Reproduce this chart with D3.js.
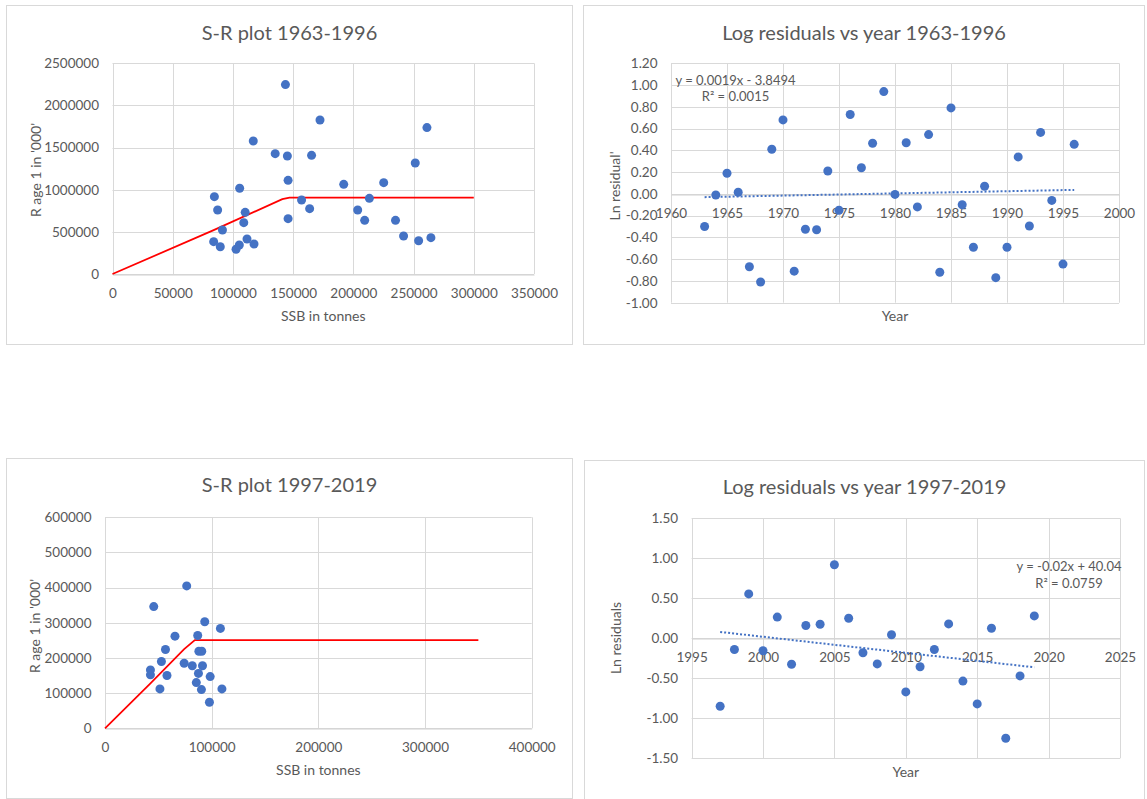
<!DOCTYPE html>
<html><head><meta charset="utf-8">
<script src="https://cdn.jsdelivr.net/npm/d3@7"></script>
<style>
body{margin:0;background:#fff;}
svg{display:block;font-family:Lato,"Open Sans",sans-serif;}
</style></head><body>
<svg id="c" width="1147" height="799"></svg>
<script>
// ---------- DATA ----------
// Panel 1: S-R 1963-1996
const ssb1 = [84600, 87300, 91300, 84000, 89500, 105600, 110200, 109000, 111700, 105300, 102600, 116900, 117500, 135100, 143600, 145200, 145800, 145800, 157000, 165300, 163700, 172300, 192000, 203600, 209400, 213300, 225200, 235000, 241700, 251400, 254200, 261100, 264400];
const rec1 = [918000, 759000, 522000, 384000, 324000, 1017000, 732000, 609000, 415000, 344000, 293000, 1578000, 356000, 1428000, 2247000, 1400000, 1111000, 657000, 878000, 1408000, 775000, 1827000, 1064000, 759000, 637000, 898000, 1084000, 637000, 451000, 1317000, 395000, 1737000, 431000];
const srLineX1 = [0, 84000, 141000, 147000, 300000];
const srLineY1 = [0, 520000, 888000, 905000, 905000];
const xTicks1 = [0, 50000, 100000, 150000, 200000, 250000, 300000, 350000];
const yTicks1 = [0, 500000, 1000000, 1500000, 2000000, 2500000];

// Panel 2: log residuals 1963-1996
const years1 = [1963,1964,1965,1966,1967,1968,1969,1970,1971,1972,1973,1974,1975,1976,1977,1978,1979,1980,1981,1982,1983,1984,1985,1986,1987,1988,1989,1990,1991,1992,1993,1994,1995,1996];
const resid1 = [-0.30, -0.01, 0.19, 0.015, -0.67, -0.81, 0.41, 0.68, -0.71, -0.325, -0.33, 0.21, -0.15, 0.73, 0.24, 0.465, 0.94, -0.005, 0.47, -0.12, 0.545, -0.72, 0.79, -0.10, -0.49, 0.07, -0.77, -0.49, 0.34, -0.295, 0.565, -0.06, -0.645, 0.455];
const xTicks2 = [1960, 1965, 1970, 1975, 1980, 1985, 1990, 1995, 2000];
const yTicks2 = [-1.0, -0.8, -0.6, -0.4, -0.2, 0, 0.2, 0.4, 0.6, 0.8, 1.0, 1.2];
const trendText2 = ["y = 0.0019x - 3.8494", "R² = 0.0015"];

// Panel 3: S-R 1997-2019
const ssb2 = [45700, 76600, 42600, 42600, 51500, 52900, 56700, 58100, 65600, 74200, 81800, 85600, 86900, 87600, 88000, 90700, 90400, 91400, 93500, 97900, 98600, 108200, 109600];
const rec2 = [346000, 405000, 166000, 152000, 112000, 190000, 224000, 150000, 262000, 185000, 178000, 130000, 264000, 156000, 219000, 219000, 110000, 178000, 303000, 74000, 147000, 284000, 112000];
const srLineX2 = [0, 42600, 74200, 84200, 350000];
const srLineY2 = [0, 128000, 225000, 251000, 251000];
const xTicks3 = [0, 100000, 200000, 300000, 400000];
const yTicks3 = [0, 100000, 200000, 300000, 400000, 500000, 600000];

// Panel 4: log residuals 1997-2019
const years2 = [1997,1998,1999,2000,2001,2002,2003,2004,2005,2006,2007,2008,2009,2010,2011,2012,2013,2014,2015,2016,2017,2018,2019];
const resid2 = [-0.85, -0.14, 0.555, -0.155, 0.265, -0.325, 0.16, 0.175, 0.92, 0.25, -0.18, -0.32, 0.045, -0.67, -0.355, -0.14, 0.18, -0.535, -0.82, 0.125, -1.25, -0.47, 0.28];
const xTicks4 = [1995, 2000, 2005, 2010, 2015, 2020, 2025];
const yTicks4 = [-1.5, -1.0, -0.5, 0, 0.5, 1.0, 1.5];
const trendText4 = ["y = -0.02x + 40.04", "R² = 0.0759"];

// ---------- DRAW ----------
const svg = d3.select("#c");
const TXT = "#595959", GRID = "#d9d9d9", BLUE = "#4472C4";
const TICK_FS = "13.5px";
const loc = d3.formatLocale({decimal: ".", thousands: ",", grouping: [3], currency: ["", ""], minus: "-"});
const fmtInt = loc.format("d"), fmt2 = loc.format(".2f");

function panel(o) {
  const g = svg.append("g");
  g.append("rect").attr("x", o.box[0]).attr("y", o.box[1])
    .attr("width", o.box[2] - o.box[0]).attr("height", o.box[3] - o.box[1])
    .attr("fill", "#fff").attr("stroke", GRID).attr("stroke-width", 1);
  const x = d3.scaleLinear().domain(o.xDom).range([o.plot[0], o.plot[1]]);
  const y = d3.scaleLinear().domain(o.yDom).range([o.plot[3], o.plot[2]]);
  // gridlines
  g.append("g").selectAll("line").data(o.yTicks).join("line")
    .attr("x1", o.plot[0]).attr("x2", o.plot[1])
    .attr("y1", d => Math.round(y(d)) + 0.5).attr("y2", d => Math.round(y(d)) + 0.5)
    .attr("stroke", GRID).attr("stroke-width", 1);
  g.append("g").selectAll("line").data(o.xTicks).join("line")
    .attr("y1", o.plot[2]).attr("y2", o.plot[3])
    .attr("x1", d => Math.round(x(d)) + 0.5).attr("x2", d => Math.round(x(d)) + 0.5)
    .attr("stroke", GRID).attr("stroke-width", 1);
  // x axis
  const ax = g.append("g").attr("transform", `translate(0,${Math.round(y(o.xAxisAt)) + 0.5})`)
    .call(d3.axisBottom(x).tickValues(o.xTicks).tickSize(0).tickSizeOuter(0).tickPadding(14).tickFormat(o.xFmt));
  ax.select(".domain").attr("stroke", "#d0d0d0");
  ax.selectAll("text").attr("fill", TXT).style("font-size", TICK_FS).style("font-family", "Lato");
  // y axis
  const ay = g.append("g").attr("transform", `translate(${o.plot[0]},0)`)
    .call(d3.axisLeft(y).tickValues(o.yTicks).tickSize(0).tickPadding(13.5).tickFormat(o.yFmt));
  ay.select(".domain").remove();
  ay.selectAll("text").attr("fill", TXT).style("font-size", TICK_FS).style("font-family", "Lato");
  // title
  g.append("text").attr("x", (o.box[0] + o.box[2]) / 2).attr("y", o.titleY)
    .attr("text-anchor", "middle").attr("fill", TXT).style("font-size", "20px").text(o.title);
  // axis titles
  g.append("text").attr("x", (o.plot[0] + o.plot[1]) / 2).attr("y", o.xTitleY)
    .attr("text-anchor", "middle").attr("fill", TXT).style("font-size", "14px").text(o.xTitle);
  g.append("text").attr("transform", `translate(${o.yTitleX},${o.yTitleCY}) rotate(-90)`)
    .attr("text-anchor", "middle").attr("fill", TXT).style("font-size", "14px").text(o.yTitle);
  return {g, x, y};
}

// Panel 1
{
  const p = panel({box: [6.5, 5.5, 572.5, 344.5], plot: [112.5, 534, 63.3, 274], xDom: [0, 350000], yDom: [0, 2500000],
    xTicks: xTicks1, yTicks: yTicks1, xFmt: fmtInt, yFmt: fmtInt, xAxisAt: 0,
    title: "S-R plot 1963-1996", titleY: 40, xTitle: "SSB in tonnes", xTitleY: 321, yTitle: "R age 1 in '000'", yTitleX: 40.5, yTitleCY: 170});
  p.g.append("path").datum(d3.zip(srLineX1, srLineY1))
    .attr("d", d3.line().x(d => p.x(d[0])).y(d => p.y(d[1])))
    .attr("fill", "none").attr("stroke", "#ff0000").attr("stroke-width", 1.75);
  p.g.append("g").selectAll("circle").data(d3.zip(ssb1, rec1)).join("circle")
    .attr("cx", d => p.x(d[0])).attr("cy", d => p.y(d[1])).attr("r", 4.5).attr("fill", BLUE);
}

function residPanel(o, years, resid, trendText, labelPos) {
  const p = panel(o);
  const n = years.length, mx = d3.mean(years), my = d3.mean(resid);
  const slope = d3.sum(years, (v, i) => (v - mx) * (resid[i] - my)) / d3.sum(years, v => (v - mx) * (v - mx));
  const icpt = my - slope * mx;
  const ends = [years[0], years[n - 1]];
  p.g.append("path").datum(ends)
    .attr("d", d3.line().x(d => p.x(d)).y(d => p.y(icpt + slope * d)))
    .attr("fill", "none").attr("stroke", BLUE).attr("stroke-width", 2).attr("stroke-dasharray", "2,2");
  p.g.append("g").selectAll("circle").data(d3.zip(years, resid)).join("circle")
    .attr("cx", d => p.x(d[0])).attr("cy", d => p.y(d[1])).attr("r", 4.5).attr("fill", BLUE);
  p.g.append("g").selectAll("text").data(trendText).join("text")
    .attr("x", labelPos[0]).attr("y", (d, i) => labelPos[1] + i * 16.7)
    .attr("text-anchor", "middle").attr("fill", TXT).style("font-size", "13px").text(d => d);
}

// Panel 2
residPanel({box: [583.5, 5.5, 1144.5, 344.5], plot: [671, 1119, 63.3, 302.7], xDom: [1960, 2000], yDom: [-1.0, 1.2],
  xTicks: xTicks2, yTicks: yTicks2, xFmt: fmtInt, yFmt: fmt2, xAxisAt: 0,
  title: "Log residuals vs year 1963-1996", titleY: 40, xTitle: "Year", xTitleY: 321, yTitle: "Ln residual'", yTitleX: 619.5, yTitleCY: 186},
  years1, resid1, trendText2, [735.5, 84.5]);

// Panel 3
{
  const p = panel({box: [6.5, 458.5, 572.5, 798.5], plot: [105, 531.7, 517.3, 728.3], xDom: [0, 400000], yDom: [0, 600000],
    xTicks: xTicks3, yTicks: yTicks3, xFmt: fmtInt, yFmt: fmtInt, xAxisAt: 0,
    title: "S-R plot 1997-2019", titleY: 492, xTitle: "SSB in tonnes", xTitleY: 775, yTitle: "R age 1 in '000'", yTitleX: 40, yTitleCY: 626});
  p.g.append("path").datum(d3.zip(srLineX2, srLineY2))
    .attr("d", d3.line().x(d => p.x(d[0])).y(d => p.y(d[1])))
    .attr("fill", "none").attr("stroke", "#ff0000").attr("stroke-width", 1.75);
  p.g.append("g").selectAll("circle").data(d3.zip(ssb2, rec2)).join("circle")
    .attr("cx", d => p.x(d[0])).attr("cy", d => p.y(d[1])).attr("r", 4.5).attr("fill", BLUE);
}

// Panel 4
residPanel({box: [584.5, 460.5, 1144.5, 810], plot: [691.6, 1120, 518.3, 758.3], xDom: [1995, 2025], yDom: [-1.5, 1.5],
  xTicks: xTicks4, yTicks: yTicks4, xFmt: fmtInt, yFmt: fmt2, xAxisAt: 0,
  title: "Log residuals vs year 1997-2019", titleY: 493.5, xTitle: "Year", xTitleY: 776.5, yTitle: "Ln residuals", yTitleX: 621, yTitleCY: 638},
  years2, resid2, trendText4, [1069, 571]);
</script>
</body></html>
